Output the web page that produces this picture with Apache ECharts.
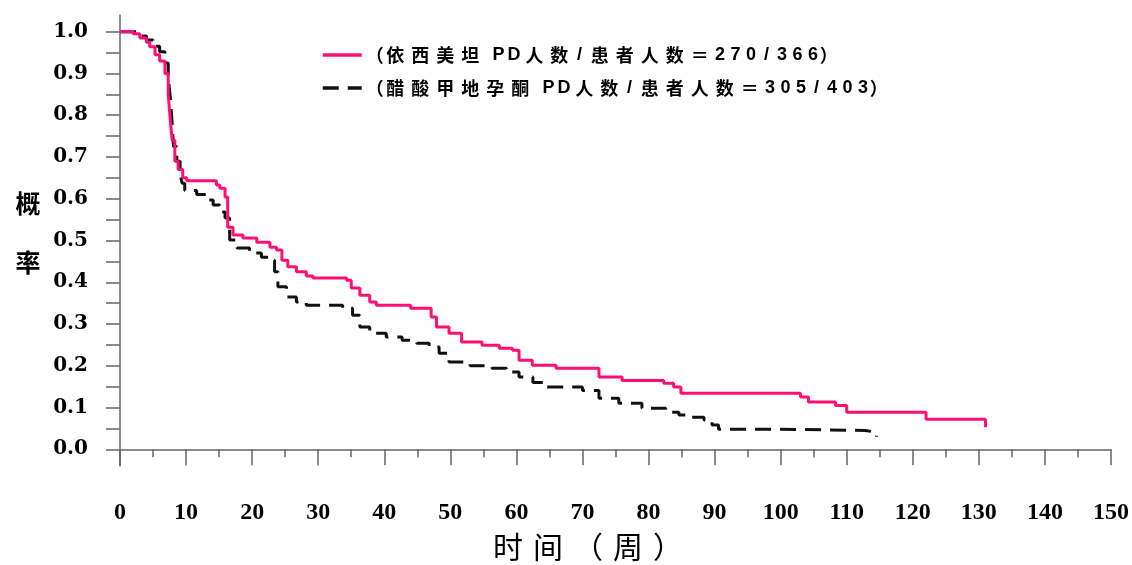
<!DOCTYPE html>
<html>
<head>
<meta charset="utf-8">
<script src="https://cdn.jsdelivr.net/npm/echarts@6/dist/echarts.min.js"></script>
<style>
  html, body { margin: 0; padding: 0; background: #fff; }
  #chart { width: 1132px; height: 565px; }
</style>
</head>
<body>
<div id="chart"></div>
<script>
// 依西美坦：时间（周）与概率
var exeName = '（依西美坦 PD人数/患者人数＝270/366）';
var exeWeeks = [0, 2, 3, 4, 4.5, 5.3, 6, 6.8, 7.3, 7.6,
    7.9, 8.3, 8.8, 9.5, 10.1, 14.6, 15.1, 15.9, 16.3, 17.1,
    18.6, 20.7, 22.7, 23.7, 24.5, 25.4, 26.7, 28.2, 29.2, 34.3,
    35, 36.3, 37.8, 38.8, 44, 47.1, 47.9, 49.8, 51.7, 54.8,
    57.4, 59.4, 60.4, 62.4, 66, 72.5, 76, 82.3, 83.8, 84.9,
    103, 104.2, 108.3, 110, 122, 131];
var exeProb = [1.0, 0.995, 0.985, 0.975, 0.964, 0.945, 0.93, 0.90, 0.85, 0.79,
    0.74, 0.69, 0.67, 0.65, 0.643, 0.633, 0.625, 0.604, 0.532, 0.513,
    0.506, 0.496, 0.484, 0.477, 0.453, 0.437, 0.425, 0.415, 0.41, 0.405,
    0.386, 0.369, 0.353, 0.345, 0.338, 0.317, 0.293, 0.278, 0.257, 0.249,
    0.242, 0.237, 0.213, 0.201, 0.194, 0.173, 0.165, 0.158, 0.149, 0.134,
    0.125, 0.113, 0.105, 0.089, 0.072, 0.053];

// 醋酸甲地孕酮
var megName = '（醋酸甲地孕酮 PD人数/患者人数＝305/403）';
var megWeeks = [0, 2.3, 3, 4, 5, 6, 6.8, 7.3, 7.6, 7.85,
    8.1, 8.6, 9.1, 9.4, 9.8, 11.6, 13.1, 14.1, 15.1, 15.9,
    16.6, 17.7, 19.6, 21.4, 22.7, 23.4, 23.9, 25.2, 26.7, 28.2,
    33.7, 35.2, 36.3, 37.8, 40.3, 42.7, 44.9, 46.8, 48.3, 49.8,
    53, 56.3, 58.5, 60.4, 62.5, 64.5, 70, 72.5, 75.5, 79,
    82.6, 84.6, 86.1, 88.4, 89.6, 90.6, 100, 112.8, 114.5];
var megProb = [1.0, 0.998, 0.99, 0.98, 0.965, 0.952, 0.925, 0.89, 0.845, 0.79,
    0.725, 0.69, 0.66, 0.637, 0.62, 0.61, 0.597, 0.585, 0.568, 0.554,
    0.501, 0.482, 0.47, 0.46, 0.453, 0.425, 0.389, 0.365, 0.353, 0.345,
    0.338, 0.321, 0.293, 0.278, 0.269, 0.261, 0.254, 0.245, 0.23, 0.209,
    0.2, 0.194, 0.185, 0.173, 0.16, 0.149, 0.141, 0.122, 0.11, 0.098,
    0.089, 0.082, 0.077, 0.07, 0.058, 0.048, 0.045, 0.041, 0.03];

var yTicks = [0, 0.1, 0.2, 0.3, 0.4, 0.5, 0.6, 0.7, 0.8, 0.9, 1.0];
var yMinorTicks = [0, 0.05, 0.1, 0.15, 0.2, 0.25, 0.3, 0.35, 0.4, 0.45, 0.5,
    0.55, 0.6, 0.65, 0.7, 0.75, 0.8, 0.85, 0.9, 0.95, 1.0];
var xTitle = '时间（周）';
var yTitle = ['概', '率'];

function pairs(xs, ys) {
    var out = [];
    for (var i = 0; i < xs.length; i++) out.push([xs[i], ys[i]]);
    return out;
}

// 每个字单独一段，模拟原图的字距
function spaced(str, parenStyle) {
    var s = '';
    for (var i = 0; i < str.length; i++) {
        var ch = str.charAt(i);
        if (ch === ' ') s += '{s| }';
        else if (parenStyle && (ch === '（' || ch === '）')) s += '{p|' + ch + '}';
        else if (ch.charCodeAt(0) > 0x2e80) s += '{w|' + ch + '}';
        else s += '{n|' + ch + '}';
    }
    return s;
}

var chart = echarts.init(document.getElementById('chart'));

var axisColor = '#666';
var cjkFont = { fontFamily: 'Noto Sans CJK SC', fontWeight: 'bold', fontSize: 18, color: '#000' };
var latinFont = { fontFamily: 'Liberation Sans', fontWeight: 'bold', fontSize: 18, color: '#000' };

var option = {
    animation: false,
    backgroundColor: '#fff',
    grid: { left: 120, right: 19, top: 15, bottom: 99 },
    legend: {
        orient: 'vertical',
        left: 316,
        top: 40,
        itemWidth: 39,
        itemHeight: 14,
        itemGap: 13,
        data: [exeName, megName],
        itemStyle: { opacity: 0 },
        lineStyle: { width: 3.5 },
        formatter: function (name) { return spaced(name, true); },
        textStyle: {
            color: '#000',
            fontFamily: 'Noto Sans CJK SC',
            fontWeight: 'bold',
            fontSize: 18,
            lineHeight: 20,
            rich: {
                w: echarts.util.extend({ width: 25, align: 'center' }, cjkFont),
                p: echarts.util.extend({ width: 16, align: 'center' }, cjkFont),
                n: echarts.util.extend({ width: 15.5, align: 'center' }, latinFont),
                s: { width: 8 }
            }
        }
    },
    xAxis: {
        type: 'value',
        min: 0,
        max: 150,
        interval: 10,
        splitLine: { show: false },
        axisLine: { lineStyle: { color: axisColor, width: 1.5 } },
        axisTick: { length: 16, lineStyle: { color: axisColor, width: 1.5 } },
        minorTick: { show: true, splitNumber: 2, length: 8, lineStyle: { color: axisColor, width: 1.5 } },
        axisLabel: {
            margin: 35,
            color: '#000',
            fontFamily: 'Liberation Serif',
            fontWeight: 'bold',
            fontSize: 24
        }
    },
    yAxis: {
        type: 'value',
        min: -0.04,
        max: 1.04,
        splitLine: { show: false },
        axisLine: { onZero: false, lineStyle: { color: axisColor, width: 1.5 } },
        axisTick: { length: 14, customValues: yMinorTicks, lineStyle: { color: axisColor, width: 1.5 } },
        axisLabel: {
            margin: 32,
            customValues: yTicks,
            formatter: function (v) { return v.toFixed(1); },
            color: '#000',
            fontFamily: 'DejaVu Serif',
            fontWeight: 'bold',
            fontSize: 20
        }
    },
    graphic: [
        {
            type: 'text', x: 28, y: 203,
            style: { text: yTitle[0], align: 'center', verticalAlign: 'middle',
                font: 'bold 25px "Noto Sans CJK SC"', fill: '#000' }
        },
        {
            type: 'text', x: 28, y: 262,
            style: { text: yTitle[1], align: 'center', verticalAlign: 'middle',
                font: 'bold 25px "Noto Sans CJK SC"', fill: '#000' }
        },
        {
            type: 'text', x: 588, y: 547,
            style: {
                text: spaced(xTitle, false), align: 'center', verticalAlign: 'middle',
                fill: '#000',
                rich: {
                    w: { width: 40, align: 'center', fontFamily: 'Noto Sans CJK SC', fontSize: 30, fill: '#000' },
                    n: { width: 16, align: 'center', fontFamily: 'Noto Sans CJK SC', fontSize: 30, fill: '#000' },
                    s: { width: 8 }
                }
            }
        }
    ],
    series: [
        {
            name: exeName,
            type: 'line',
            step: 'end',
            symbol: 'none',
            data: pairs(exeWeeks, exeProb),
            itemStyle: { color: '#ff0f75' },
            lineStyle: { color: '#ff0f75', width: 3 },
            z: 3
        },
        {
            name: megName,
            type: 'line',
            step: 'end',
            symbol: 'none',
            data: pairs(megWeeks, megProb),
            itemStyle: { color: '#111' },
            lineStyle: { color: '#111', width: 3, type: [16, 9] },
            z: 2
        }
    ]
};

chart.setOption(option);
</script>
</body>
</html>
